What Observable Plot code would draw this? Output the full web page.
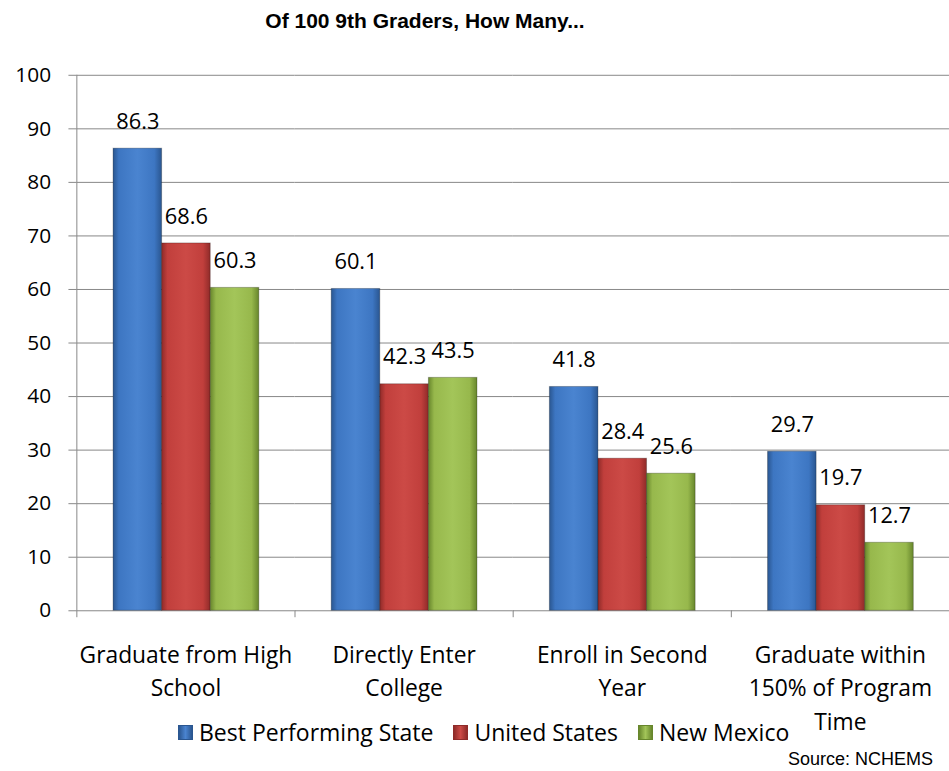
<!DOCTYPE html>
<html><head><meta charset="utf-8">
<script src="https://cdn.jsdelivr.net/npm/d3@7"></script>
<script src="https://cdn.jsdelivr.net/npm/@observablehq/plot@0.6"></script>
<style>
body{margin:0;background:#fff;overflow:hidden;}
#wrap{position:relative;width:949px;height:771px;overflow:hidden;}
#title{position:absolute;top:-4px;left:0;width:850px;height:50px;text-align:center;font:bold 21px "Liberation Sans",Arial,sans-serif;line-height:50px;color:#000;}
#chart{position:absolute;top:50px;left:0;}
#legend{position:absolute;left:178px;top:714px;display:flex;align-items:center;font:23px "Open Sans",sans-serif;color:#000;white-space:nowrap;line-height:36px;}
#legend .item{display:flex;align-items:center;margin-right:20px;}
#legend .sw{width:15px;height:15px;margin-right:6px;}
#source{position:absolute;right:16px;top:749px;font:18px "Liberation Sans",Arial,sans-serif;color:#000;line-height:20px;}
</style></head><body>
<div id="wrap">
<div id="title">Of 100 9th Graders, How Many...</div>
<div id="chart"></div>
<div id="legend"></div>
<div id="source">Source: NCHEMS</div>
</div>
<script>
const categories = ["Graduate from High School","Directly Enter College","Enroll in Second Year","Graduate within 150% of Program Time"];
const categoryLabels = ["Graduate from High\nSchool","Directly Enter\nCollege","Enroll in Second\nYear","Graduate within\n150% of Program\nTime"];
const seriesNames = ["Best Performing State","United States","New Mexico"];
const bestState = [86.3, 60.1, 41.8, 29.7];
const unitedStates = [68.6, 42.3, 28.4, 19.7];
const newMexico = [60.3, 43.5, 25.6, 12.7];
const yTicks = [0,10,20,30,40,50,60,70,80,90,100];
const seriesColors = [
  ["#2a5690","#3d76c2","#4a84d0"],
  ["#8f2b29","#c13f3c","#cc4a46"],
  ["#67862c","#97b84c","#a3c559"]
];
const gradIds = ["gBlue","gRed","gGreen"];

const valuesBySeries = [bestState, unitedStates, newMexico];
const data = [];
categories.forEach((c, i) => seriesNames.forEach((s, j) => data.push({category: c, series: s, value: valuesBySeries[j][i], grad: `url(#${gradIds[j]})`})));
const labelOf = new Map(categories.map((c, i) => [c, categoryLabels[i]]));
const textFont = "'Open Sans', sans-serif";

const plot = Plot.plot({
  width: 957,
  height: 721,
  marginLeft: 77,
  marginRight: 0,
  marginTop: 25,
  marginBottom: 156,
  style: {fontFamily: textFont, background: "#fff"},
  fx: {domain: categories, padding: 0, axis: null},
  x: {domain: seriesNames, paddingInner: 0, paddingOuter: 0.71, axis: null},
  y: {domain: [0, 100], axis: null},
  color: {type: "identity"},
  marks: [
    Plot.gridY(yTicks, {stroke: "#878787", strokeOpacity: 1}),
    Plot.axisY(yTicks, {tickSize: 8, tickPadding: 18, fontSize: 21, stroke: "#878787", color: "#000", fontFamily: textFont, tickFormat: d => String(d), label: null}),
    Plot.barY(data, {fx: "category", x: "series", y: "value", fill: "grad", stroke: "#00000040", strokeWidth: 1}),
    Plot.text(data, {fx: "category", x: "series", y: "value", text: d => d.value.toFixed(1), dy: -27, fontSize: 22, fill: "#000", fontFamily: textFont}),
    Plot.text(categories, {fx: d => d, text: d => labelOf.get(d), frameAnchor: "bottom", lineAnchor: "top", dy: 28, fontSize: 23, lineHeight: 1.48, fill: "#000", fontFamily: textFont})
  ]
});

const svg = d3.select(plot);
const defs = svg.insert("defs", ":first-child");
seriesColors.forEach((cols, j) => {
  const lg = defs.append("linearGradient").attr("id", gradIds[j]).attr("x1", "0").attr("x2", "1").attr("y1", "0").attr("y2", "0");
  [[0, cols[0]], [0.12, cols[1]], [0.5, cols[2]], [0.85, cols[1]], [1, cols[0]]].forEach(([o, c]) =>
    lg.append("stop").attr("offset", o).attr("stop-color", c));
});

// axis line and category boundary ticks, from Plot's own fx and y scales
const fxS = plot.scale("fx"), yS = plot.scale("y");
const [fx0, fx1] = fxS.range;
const step = (fx1 - fx0) / categories.length;
const y0 = yS.apply(0), y100 = yS.apply(100);
const tg = svg.append("g").attr("stroke", "#878787").attr("stroke-width", 1);
d3.range(categories.length + 1).forEach(i => {
  const xx = Math.round(fx0 + i * step) + 0.5;
  tg.append("line").attr("x1", xx).attr("x2", xx).attr("y1", i === 0 ? y100 : y0).attr("y2", y0 + 7);
});
document.getElementById("chart").appendChild(plot);

const legend = document.getElementById("legend");
seriesNames.forEach((s, j) => {
  const it = document.createElement("div");
  it.className = "item";
  const c = seriesColors[j];
  it.innerHTML = `<span class="sw" style="background:linear-gradient(to right, ${c[0]}, ${c[2]} 50%, ${c[0]});border:1px solid ${c[0]};box-sizing:border-box"></span><span>${s}</span>`;
  legend.appendChild(it);
});
</script>
</body></html>
